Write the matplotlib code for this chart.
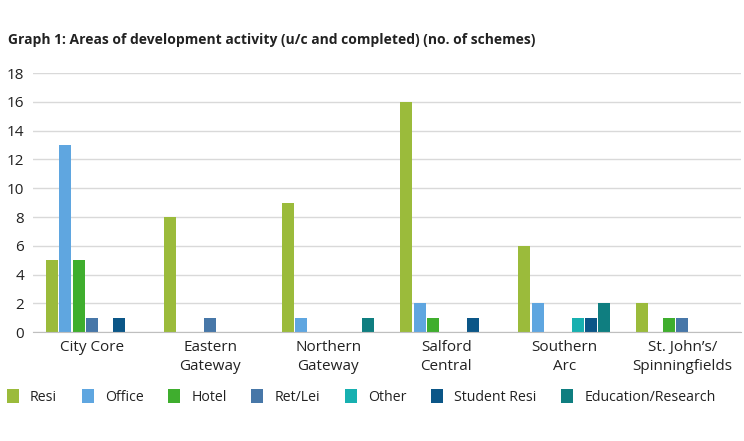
import numpy as np
import matplotlib.pyplot as plt
from matplotlib.patches import Patch

plt.rcParams['font.family'] = ['Open Sans', 'DejaVu Sans']

categories = ["City Core", "Eastern\nGateway", "Northern\nGateway",
              "Salford\nCentral", "Southern\nArc", "St. John\u2019s/\nSpinningfields"]
series = ["Resi", "Office", "Hotel", "Ret/Lei", "Other", "Student Resi", "Education/Research"]
resi = [5, 8, 9, 16, 6, 2]
office = [13, 0, 1, 2, 2, 0]
hotel = [5, 0, 0, 1, 0, 1]
ret_lei = [1, 1, 0, 0, 0, 1]
other = [0, 0, 0, 0, 1, 0]
student_resi = [1, 0, 0, 1, 1, 0]
education = [0, 0, 1, 0, 2, 0]
values = [resi, office, hotel, ret_lei, other, student_resi, education]
colors = ["#9bbb3b", "#5fa6e0", "#3fae2e", "#4777a8", "#17b0b0", "#0b5687", "#0f7e80"]

fig = plt.figure(figsize=(7.44, 4.41), dpi=100)
ax = fig.add_axes([0.0444, 0.247, 0.952, 0.587])

x = np.arange(len(categories))
slot = 0.113
for i, (vals, c) in enumerate(zip(values, colors)):
    ax.bar(x + (i - 3) * slot, vals, width=slot * 0.9, color=c, zorder=3)

ax.set_xlim(-0.5, len(categories) - 0.5)
ax.set_ylim(0, 18)
ax.set_yticks(range(0, 19, 2))
ax.set_xticks(x)
ax.set_xticklabels(categories, fontsize=11, color="#222222", linespacing=1.3)
ax.tick_params(axis='y', labelsize=11, colors="#222222", length=0, pad=6.5)
ax.tick_params(axis='x', length=0, pad=6)
ax.grid(axis='y', color="#d9d9d9", linewidth=1, zorder=0)
for s in ["top", "right", "left"]:
    ax.spines[s].set_visible(False)
ax.spines["bottom"].set_color("#bfbfbf")
ax.spines["bottom"].set_zorder(4)

fig.text(0.011, 0.9, "Graph 1: Areas of development activity (u/c and completed) (no. of schemes)",
         fontsize=10, fontweight='bold', color="#222222")

handles = [Patch(facecolor=c, label=s) for s, c in zip(series, colors)]
fig.legend(handles=handles, loc='center left', bbox_to_anchor=(0.009, 0.1), ncol=7,
           frameon=False, fontsize=10.2, handlelength=0.85, handleheight=1.2,
           handletextpad=0.8, columnspacing=1.72, labelcolor="#222222",
           borderpad=0, borderaxespad=0)

fig.savefig("out.png", dpi=100)
